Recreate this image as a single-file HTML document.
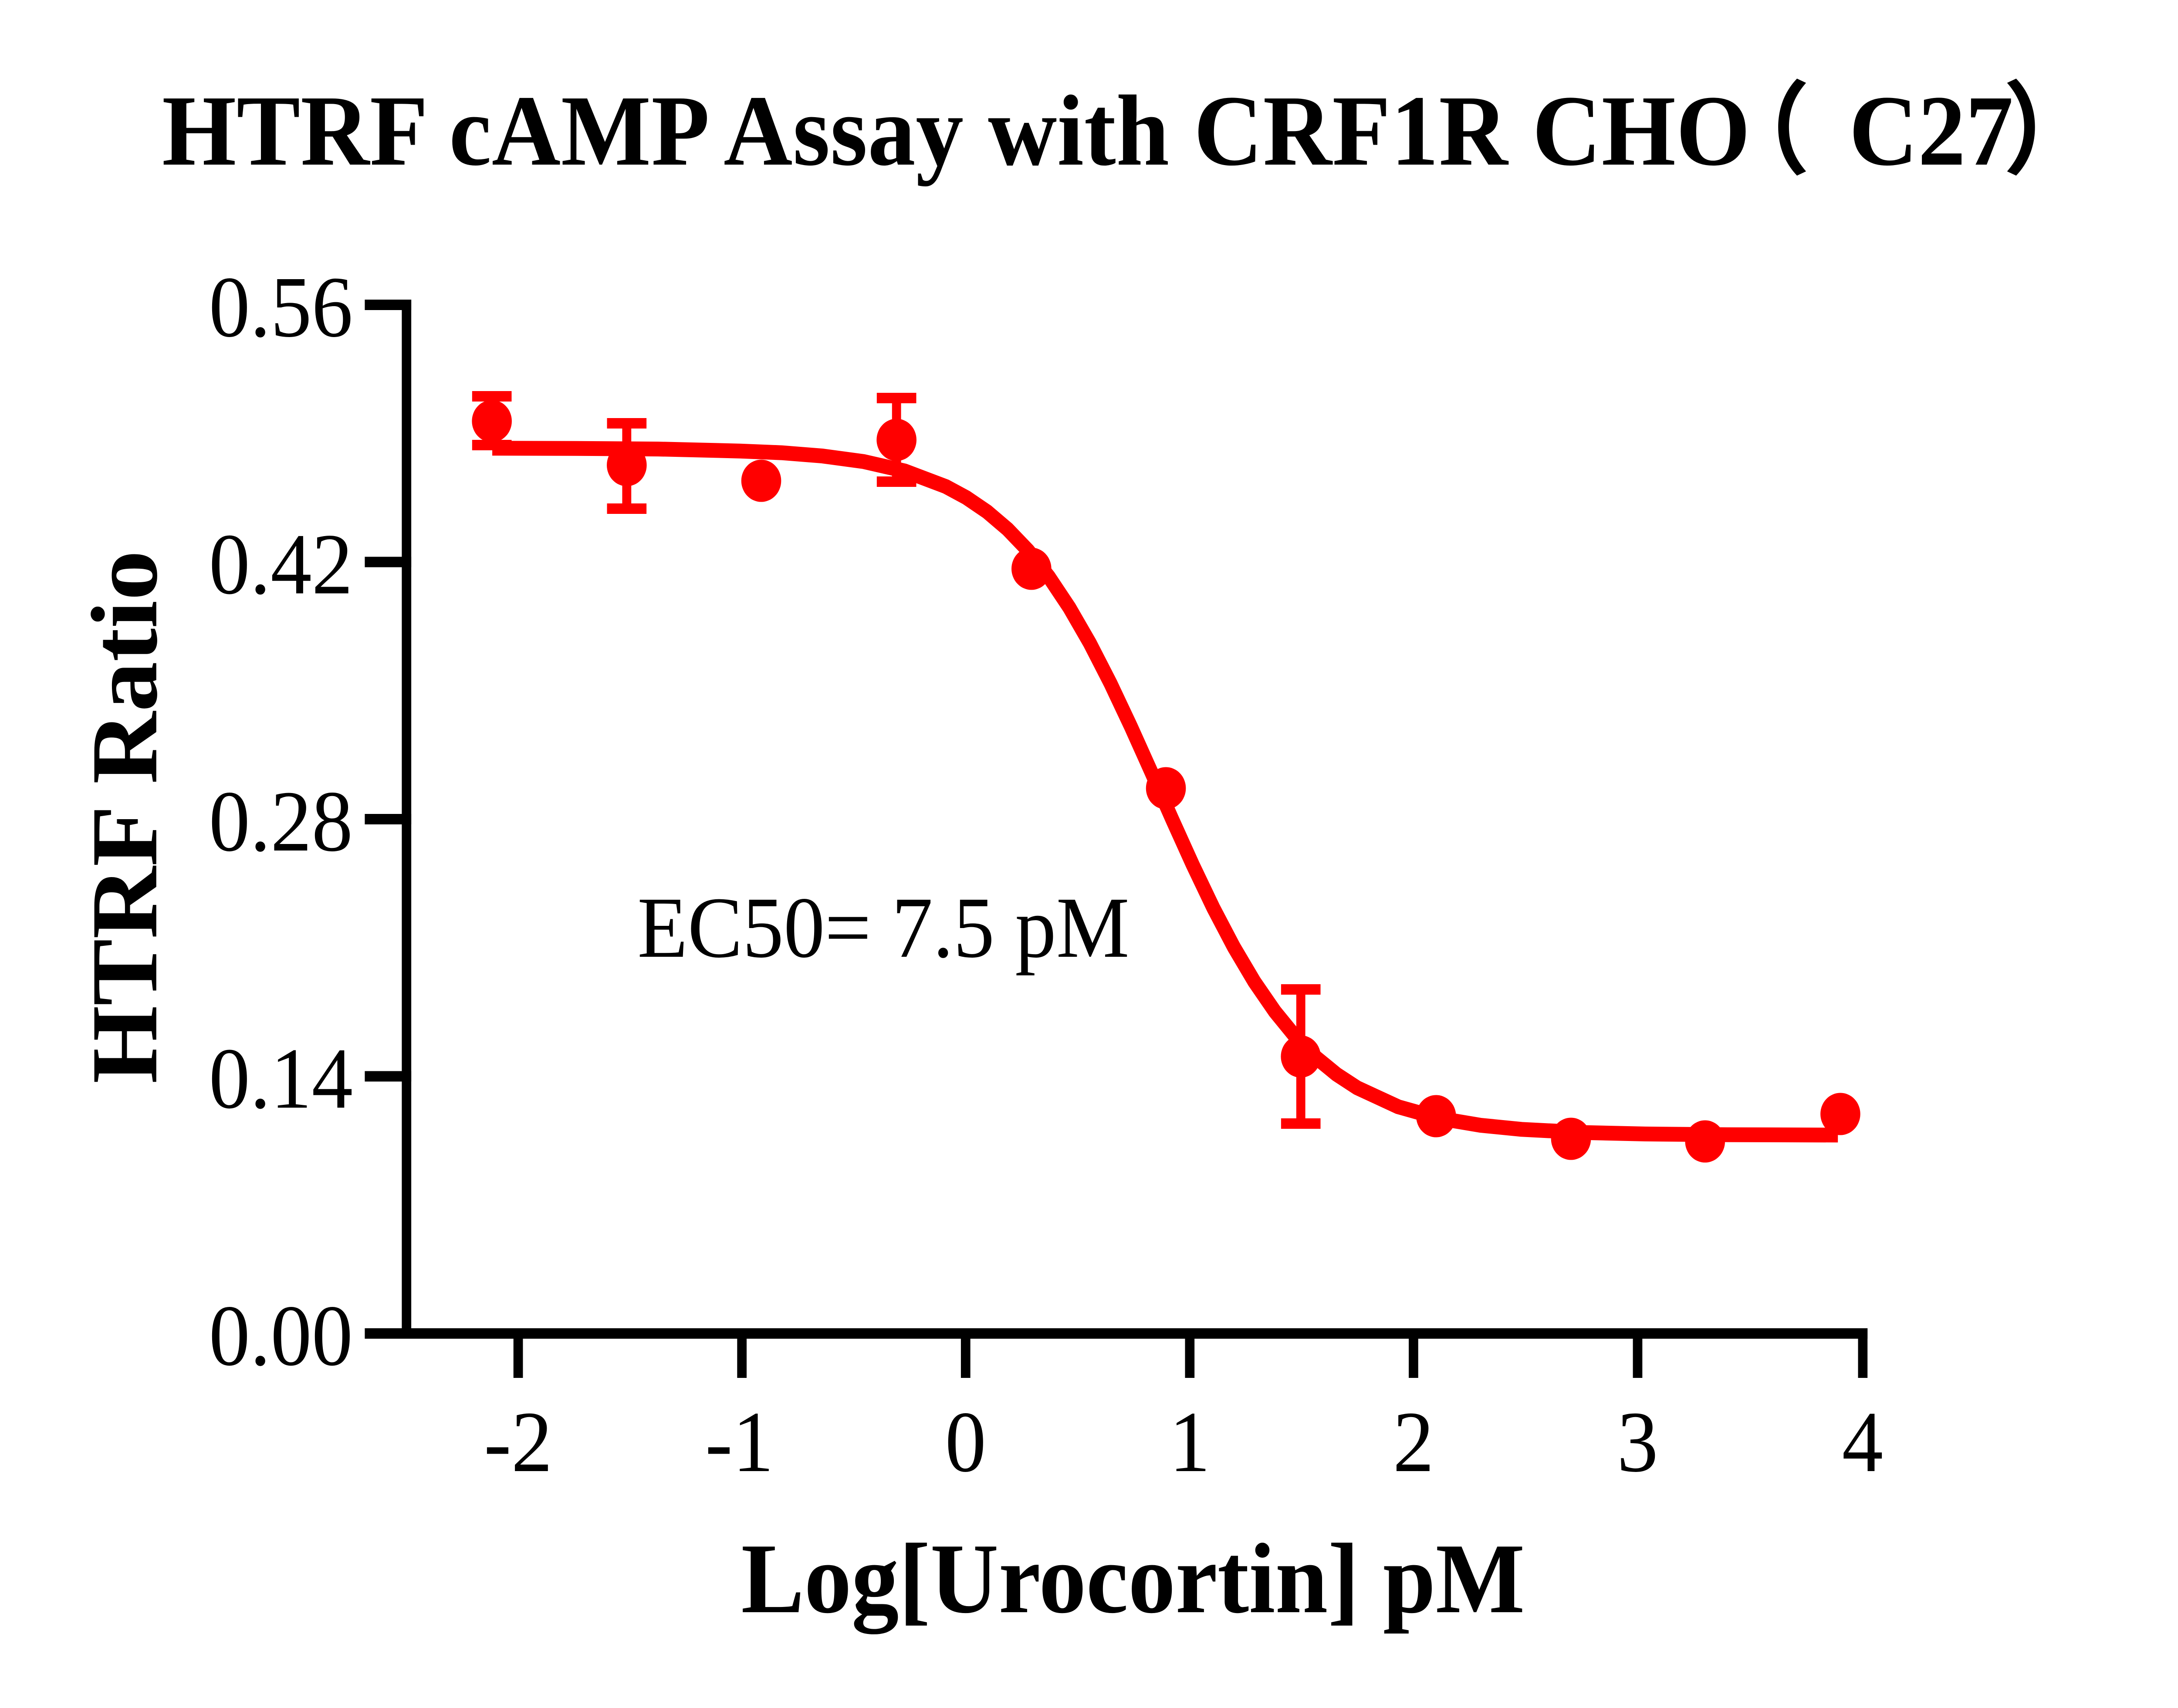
<!DOCTYPE html>
<html>
<head>
<meta charset="utf-8">
<style>
  html, body { margin: 0; padding: 0; background: #ffffff; width: 100%; height: 100%; overflow: hidden; }
  svg { display: block; width: 100vw; height: 100vh; }
  .serif { font-family: "Liberation Serif", "Noto Serif CJK SC", serif; }
  .bold { font-weight: bold; }
</style>
</head>
<body>
<svg viewBox="0 0 5296 3922" preserveAspectRatio="none" xmlns="http://www.w3.org/2000/svg">
  <rect x="0" y="0" width="5296" height="3922" fill="#ffffff"/>

  <!-- Title -->
  <text class="serif bold" x="394" y="378" font-size="232" fill="#000" textLength="3862" lengthAdjust="spacing">HTRF cAMP Assay with CRF1R CHO</text>
  <text x="4170" y="380" font-size="232" font-weight="bold" fill="#000" font-family="'Noto Sans CJK SC', 'WenQuanYi Zen Hei', sans-serif">（</text>
  <text class="serif bold" x="4496" y="378" font-size="232" fill="#000">C27</text>
  <text x="4870" y="380" font-size="232" font-weight="bold" fill="#000" font-family="'Noto Sans CJK SC', 'WenQuanYi Zen Hei', sans-serif">）</text>

  <!-- Axes -->
  <g fill="#000">
    <rect x="977" y="688" width="23" height="2386"/>
    <rect x="887" y="3050" width="3654" height="24"/>
    <rect x="887" y="688" width="113" height="24"/>
    <rect x="887" y="1278.5" width="113" height="24"/>
    <rect x="887" y="1869" width="113" height="24"/>
    <rect x="887" y="2459.5" width="113" height="24"/>
    <rect x="1248.5" y="3050" width="23" height="114"/>
    <rect x="1792.5" y="3050" width="23" height="114"/>
    <rect x="2336.5" y="3050" width="23" height="114"/>
    <rect x="2881.5" y="3050" width="23" height="114"/>
    <rect x="3425.5" y="3050" width="23" height="114"/>
    <rect x="3970.5" y="3050" width="23" height="114"/>
    <rect x="4518" y="3050" width="23" height="114"/>
  </g>

  <!-- Y tick labels -->
  <g class="serif" font-size="200" fill="#000" text-anchor="end">
    <text x="858" y="772">0.56</text>
    <text x="858" y="1362.5">0.42</text>
    <text x="858" y="1953">0.28</text>
    <text x="858" y="2543.5">0.14</text>
    <text x="858" y="3134">0.00</text>
  </g>

  <!-- X tick labels -->
  <g class="serif" font-size="200" fill="#000" text-anchor="middle">
    <text x="1260" y="3378">-2</text>
    <text x="1798" y="3378">-1</text>
    <text x="2348" y="3378">0</text>
    <text x="2893" y="3378">1</text>
    <text x="3437" y="3378">2</text>
    <text x="3982" y="3378">3</text>
    <text x="4529" y="3378">4</text>
  </g>

  <!-- Axis titles -->
  <text class="serif bold" x="2755" y="3702" font-size="230" fill="#000" text-anchor="middle">Log[Urocortin] pM</text>
  <text class="serif bold" x="0" y="0" font-size="230" fill="#000" text-anchor="middle" transform="translate(380,1876) rotate(-90)">HTRF Ratio</text>

  <!-- EC50 annotation -->
  <text class="serif" x="1550" y="2197" font-size="200" fill="#000">EC50= 7.5 pM</text>

  <!-- Fitted curve -->
  <polyline fill="none" stroke="#ff0000" stroke-width="34" stroke-linejoin="round" stroke-linecap="butt"
    points="1197,1029.2 1400,1029.7 1600,1031.1 1800,1035.7 1900,1039.6 2000,1047.1 2100,1059.9 2200,1081.5 2300,1117.2 2350,1142.8 2400,1174.9 2450,1215.1 2500,1264.4 2550,1324.1 2600,1394.9 2650,1476.7 2700,1568.7 2750,1668.8 2800,1773.9 2850,1880.8 2900,1985.3 2950,2084.2 3000,2174.3 3050,2254.1 3100,2322.8 3150,2380.6 3200,2428.3 3250,2466.9 3300,2497.8 3400,2541.5 3500,2568.1 3600,2583.9 3700,2593.3 3850,2600.6 4000,2603.9 4200,2605.6 4469,2606.4"/>

  <!-- Error bars -->
  <g fill="#ff0000">
    <rect x="1185" y="910" width="22" height="112"/>
    <rect x="1148" y="898" width="96" height="24"/>
    <rect x="1148" y="1010" width="96" height="24"/>
    <rect x="1513" y="972" width="22" height="196"/>
    <rect x="1476" y="960" width="96" height="24"/>
    <rect x="1476" y="1156" width="96" height="24"/>
    <rect x="2169" y="914" width="22" height="192"/>
    <rect x="2132" y="902" width="96" height="24"/>
    <rect x="2132" y="1094" width="96" height="24"/>
    <rect x="3152" y="2272" width="22" height="308"/>
    <rect x="3115" y="2260" width="96" height="24"/>
    <rect x="3115" y="2568" width="96" height="24"/>
  </g>

  <!-- Data points -->
  <g fill="#ff0000">
    <circle cx="1196" cy="967" r="48.5"/>
    <circle cx="1524" cy="1068" r="48.5"/>
    <circle cx="1851" cy="1104" r="48.5"/>
    <circle cx="2180" cy="1010" r="48.5"/>
    <circle cx="2508" cy="1306" r="48.5"/>
    <circle cx="2835" cy="1810" r="48.5"/>
    <circle cx="3163" cy="2426" r="48.5"/>
    <circle cx="3492" cy="2563" r="48.5"/>
    <circle cx="3820" cy="2615" r="48.5"/>
    <circle cx="4146" cy="2621" r="48.5"/>
    <circle cx="4475" cy="2558" r="48.5"/>
  </g>
</svg>
</body>
</html>
